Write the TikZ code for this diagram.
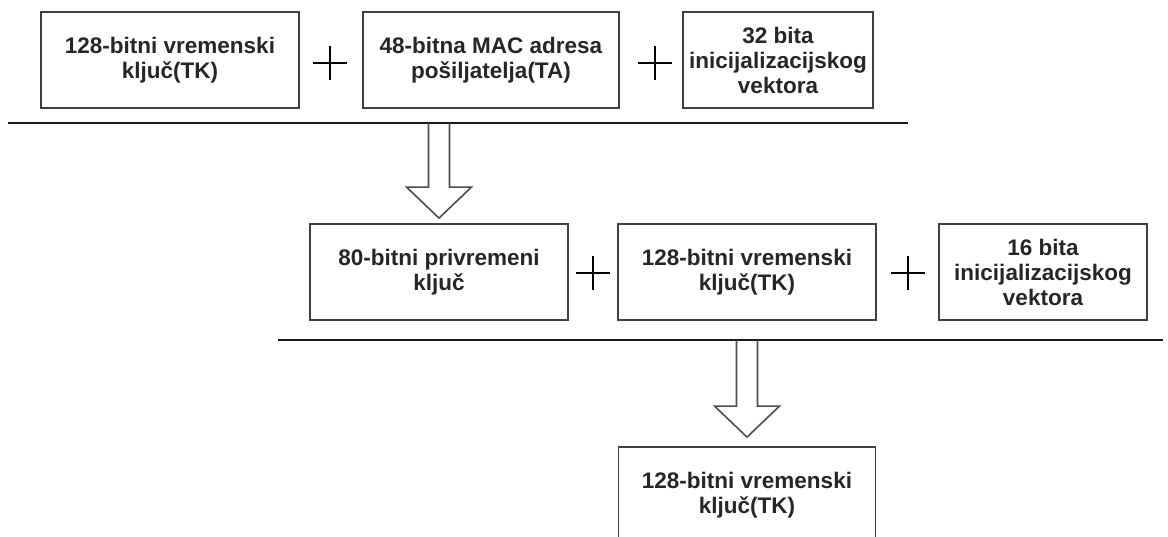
\documentclass[tikz,border=0pt]{standalone}
\usepackage{fontspec}
\setmainfont{Liberation Sans}
\begin{document}
\begin{tikzpicture}[x=1pt,y=-1pt,
  box/.style={draw=black!75, line width=1.8pt, minimum height=96pt, inner sep=0pt,
    align=center, font=\bfseries\fontsize{22.5}{25}\selectfont, text=black!85},
  plussign/.style={minimum size=34pt, inner sep=0pt,
    path picture={\draw[line width=2pt, black]
      (path picture bounding box.west) -- (path picture bounding box.east)
      (path picture bounding box.north) -- (path picture bounding box.south);}},
  rule/.style={line width=2.6pt, black!90},
  blockarrow/.style={draw=black!70, line width=1.6pt, line join=miter}]
\useasboundingbox (0,0) rectangle (1168,537);
\clip (0,0) rectangle (1168,537);

% first row of inputs
\node[box, minimum width=258pt] (tk1) at (170,60) {128-bitni vremenski\\klju\v{c}(TK)};
\node[plussign] (p1) at (330,63) {};
\node[box, minimum width=256pt] (ta) at (491,60) {48-bitna MAC adresa\\po\v{s}iljatelja(TA)};
\node[plussign] (p2) at (655,63) {};
\node[box, minimum width=190pt] (iv32) at (778,60) {32 bita\\inicijalizacijskog\\vektora};

% separator under the first row
\coordinate (r1w) at (8,123);
\coordinate (r1e) at (908,123);
\draw[rule] (r1w) -- (r1e);

% second row
\node[box, minimum width=258pt] (tmp) at (439,272) {80-bitni privremeni\\klju\v{c}};
\node[plussign] (p4) at (593,273) {};
\node[box, minimum width=258pt] (tk2) at (747,272) {128-bitni vremenski\\klju\v{c}(TK)};
\node[plussign] (p5) at (908,273) {};
\node[box, minimum width=208pt] (iv16) at (1043,272) {16 bita\\inicijalizacijskog\\vektora};

% separator under the second row
\coordinate (r2w) at (278,340);
\coordinate (r2e) at (1163,340);
\draw[rule] (r2w) -- (r2e);

% result
\node[box, minimum width=257pt] (tk3) at (747,495) {128-bitni vremenski\\klju\v{c}(TK)};

% hollow block arrows
\newcommand{\hollowarrow}[2]{%
  \draw[blockarrow]
    ([xshift=-10.5pt]#1) -- ([xshift=-10.5pt,yshift=31pt]#2)
    -- ([xshift=-32.5pt,yshift=31pt]#2) -- (#2)
    -- ([xshift=32.5pt,yshift=31pt]#2) -- ([xshift=10.5pt,yshift=31pt]#2)
    -- ([xshift=10.5pt]#1);}
\coordinate (a1s) at (tmp.center |- r1w);
\coordinate (a1t) at ([yshift=5pt]tmp.north);
\hollowarrow{a1s}{a1t}
\coordinate (a2s) at (tk3.center |- r2w);
\coordinate (a2t) at ([yshift=9pt]tk3.north);
\hollowarrow{a2s}{a2t}
\end{tikzpicture}
\end{document}
